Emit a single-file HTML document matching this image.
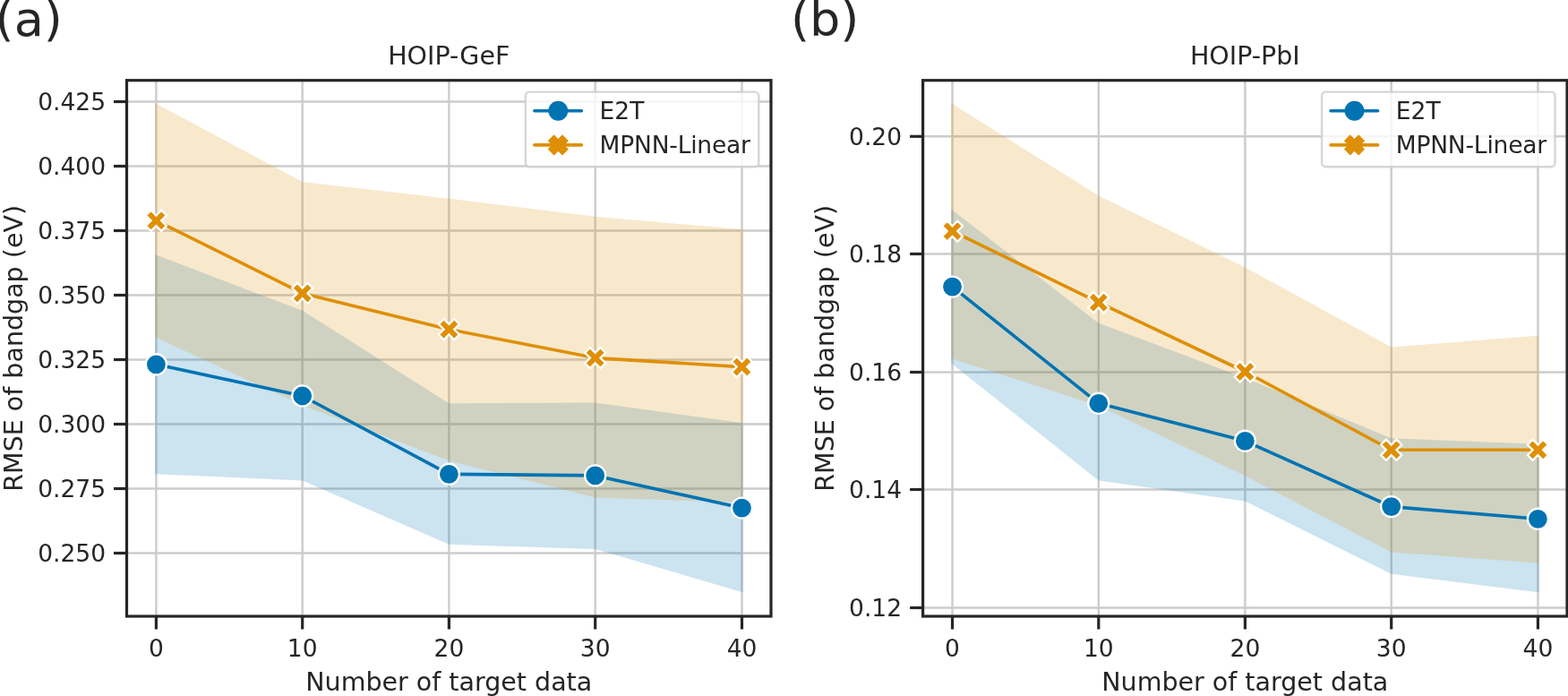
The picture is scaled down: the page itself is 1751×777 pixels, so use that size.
<!DOCTYPE html><html><head><meta charset="utf-8"><style>html,body{margin:0;padding:0;background:#fff;}svg{display:block;}text{font-family:"DejaVu Sans","Liberation Sans",sans-serif;fill:#262626;}</style></head><body>
<svg width="1751" height="777" viewBox="0 0 1751 777">
<rect width="1751" height="777" fill="#fff"/>
<defs><clipPath id="c0"><rect x="141.5" y="89.7" width="719.5" height="598.3"/></clipPath></defs>
<g stroke="#cccccc" stroke-width="2.4" clip-path="url(#c0)"><line x1="174.4" y1="89.7" x2="174.4" y2="688"/><line x1="337.7" y1="89.7" x2="337.7" y2="688"/><line x1="501.4" y1="89.7" x2="501.4" y2="688"/><line x1="664.7" y1="89.7" x2="664.7" y2="688"/><line x1="828.5" y1="89.7" x2="828.5" y2="688"/><line x1="141.5" y1="617.5" x2="861" y2="617.5"/><line x1="141.5" y1="545.5" x2="861" y2="545.5"/><line x1="141.5" y1="473.5" x2="861" y2="473.5"/><line x1="141.5" y1="401.5" x2="861" y2="401.5"/><line x1="141.5" y1="329.5" x2="861" y2="329.5"/><line x1="141.5" y1="257.5" x2="861" y2="257.5"/><line x1="141.5" y1="185.5" x2="861" y2="185.5"/><line x1="141.5" y1="113.5" x2="861" y2="113.5"/></g>
<path d="M173.1 284.6 L174.4 284.6 L337.7 346.8 L501.4 450.2 L664.7 449.5 L828.5 472.1 L829.8 472.1 L829.8 660.9 L828.5 660.9 L664.7 612.9 L501.4 607.7 L337.7 536.5 L174.4 529.2 L173.1 529.2 Z" fill="#0173b2" fill-opacity="0.2"/>
<path d="M173.1 115.7 L174.4 115.7 L337.7 202.9 L501.4 221.7 L664.7 241.8 L828.5 256.1 L829.8 256.1 L829.8 560.8 L828.5 560.8 L664.7 555.6 L501.4 514.3 L337.7 452.5 L174.4 377 L173.1 377 Z" fill="#de8f05" fill-opacity="0.2"/>
<polyline points="174.4,406.8 337.7,442 501.4,529.3 664.7,530.9 828.5,567.1" fill="none" stroke="#0173b2" stroke-width="3.6" stroke-linejoin="round" stroke-linecap="round"/>
<circle cx="174.4" cy="406.8" r="11.55" fill="#0173b2" stroke="#fff" stroke-width="2.3"/>
<circle cx="337.7" cy="442" r="11.55" fill="#0173b2" stroke="#fff" stroke-width="2.3"/>
<circle cx="501.4" cy="529.3" r="11.55" fill="#0173b2" stroke="#fff" stroke-width="2.3"/>
<circle cx="664.7" cy="530.9" r="11.55" fill="#0173b2" stroke="#fff" stroke-width="2.3"/>
<circle cx="828.5" cy="567.1" r="11.55" fill="#0173b2" stroke="#fff" stroke-width="2.3"/>
<polyline points="174.4,246.3 337.7,327.4 501.4,367.7 664.7,399.6 828.5,409.6" fill="none" stroke="#de8f05" stroke-width="3.6" stroke-linejoin="round" stroke-linecap="round"/>
<path d="M168.62 234.75 L174.4 240.53 L180.18 234.75 L185.95 240.53 L180.18 246.3 L185.95 252.08 L180.18 257.85 L174.4 252.08 L168.62 257.85 L162.85 252.08 L168.62 246.3 L162.85 240.53 Z" fill="#de8f05" stroke="#fff" stroke-width="2.3" stroke-linejoin="miter"/>
<path d="M331.93 315.85 L337.7 321.62 L343.47 315.85 L349.25 321.62 L343.47 327.4 L349.25 333.17 L343.47 338.95 L337.7 333.17 L331.93 338.95 L326.15 333.17 L331.93 327.4 L326.15 321.62 Z" fill="#de8f05" stroke="#fff" stroke-width="2.3" stroke-linejoin="miter"/>
<path d="M495.62 356.15 L501.4 361.93 L507.17 356.15 L512.95 361.93 L507.17 367.7 L512.95 373.47 L507.17 379.25 L501.4 373.47 L495.62 379.25 L489.85 373.47 L495.62 367.7 L489.85 361.93 Z" fill="#de8f05" stroke="#fff" stroke-width="2.3" stroke-linejoin="miter"/>
<path d="M658.93 388.05 L664.7 393.83 L670.48 388.05 L676.25 393.83 L670.48 399.6 L676.25 405.38 L670.48 411.15 L664.7 405.38 L658.93 411.15 L653.15 405.38 L658.93 399.6 L653.15 393.83 Z" fill="#de8f05" stroke="#fff" stroke-width="2.3" stroke-linejoin="miter"/>
<path d="M822.73 398.05 L828.5 403.83 L834.27 398.05 L840.05 403.83 L834.27 409.6 L840.05 415.38 L834.27 421.15 L828.5 415.38 L822.73 421.15 L816.95 415.38 L822.73 409.6 L816.95 403.83 Z" fill="#de8f05" stroke="#fff" stroke-width="2.3" stroke-linejoin="miter"/>
<rect x="141.5" y="89.7" width="719.5" height="598.3" fill="none" stroke="#262626" stroke-width="3.2" stroke-linejoin="miter"/>
<g stroke="#262626" stroke-width="3.2"><line x1="174.4" y1="688" x2="174.4" y2="702.5"/><line x1="337.7" y1="688" x2="337.7" y2="702.5"/><line x1="501.4" y1="688" x2="501.4" y2="702.5"/><line x1="664.7" y1="688" x2="664.7" y2="702.5"/><line x1="828.5" y1="688" x2="828.5" y2="702.5"/><line x1="141.5" y1="617.5" x2="127" y2="617.5"/><line x1="141.5" y1="545.5" x2="127" y2="545.5"/><line x1="141.5" y1="473.5" x2="127" y2="473.5"/><line x1="141.5" y1="401.5" x2="127" y2="401.5"/><line x1="141.5" y1="329.5" x2="127" y2="329.5"/><line x1="141.5" y1="257.5" x2="127" y2="257.5"/><line x1="141.5" y1="185.5" x2="127" y2="185.5"/><line x1="141.5" y1="113.5" x2="127" y2="113.5"/></g>
<text x="174.4" y="733" font-size="26.5" text-anchor="middle">0</text>
<text x="337.7" y="733" font-size="26.5" text-anchor="middle">10</text>
<text x="501.4" y="733" font-size="26.5" text-anchor="middle">20</text>
<text x="664.7" y="733" font-size="26.5" text-anchor="middle">30</text>
<text x="828.5" y="733" font-size="26.5" text-anchor="middle">40</text>
<text x="118" y="627.15" font-size="26.5" text-anchor="end">0.250</text>
<text x="118" y="555.15" font-size="26.5" text-anchor="end">0.275</text>
<text x="118" y="483.15" font-size="26.5" text-anchor="end">0.300</text>
<text x="118" y="411.15" font-size="26.5" text-anchor="end">0.325</text>
<text x="118" y="339.15" font-size="26.5" text-anchor="end">0.350</text>
<text x="118" y="267.15" font-size="26.5" text-anchor="end">0.375</text>
<text x="118" y="195.15" font-size="26.5" text-anchor="end">0.400</text>
<text x="118" y="123.15" font-size="26.5" text-anchor="end">0.425</text>
<text x="501.25" y="72" font-size="28.5" text-anchor="middle">HOIP-GeF</text>
<text x="501.25" y="771" font-size="28.5" text-anchor="middle">Number of target data</text>
<text transform="translate(24.9 388.85) rotate(-90)" x="0" y="0" font-size="28.5" text-anchor="middle">RMSE of bandgap (eV)</text>
<rect x="586.9" y="102.6" width="260.4" height="83.7" rx="4.5" ry="4.5" fill="#fff" fill-opacity="0.8" stroke="#cccccc" stroke-opacity="0.8" stroke-width="2.4"/>
<line x1="596.9" y1="123.7" x2="649.4" y2="123.7" stroke="#0173b2" stroke-width="3.6" stroke-linecap="round"/>
<circle cx="623.3" cy="123.7" r="10.95" fill="#0173b2"/>
<line x1="596.9" y1="161.9" x2="649.4" y2="161.9" stroke="#de8f05" stroke-width="3.6" stroke-linecap="round"/>
<path d="M618.6 152.5 L623.3 157.2 L628 152.5 L632.7 157.2 L628 161.9 L632.7 166.6 L628 171.3 L623.3 166.6 L618.6 171.3 L613.9 166.6 L618.6 161.9 L613.9 157.2 Z" fill="#de8f05" stroke="#de8f05" stroke-width="3.1" stroke-linejoin="miter"/>
<text x="669.6" y="133.2" font-size="26.5">E2T</text>
<text x="669.6" y="171.4" font-size="26.5" letter-spacing="-0.2">MPNN-Linear</text>
<defs><clipPath id="c1"><rect x="1030.6" y="89.7" width="719.4" height="598.3"/></clipPath></defs>
<g stroke="#cccccc" stroke-width="2.4" clip-path="url(#c1)"><line x1="1063.5" y1="89.7" x2="1063.5" y2="688"/><line x1="1226.8" y1="89.7" x2="1226.8" y2="688"/><line x1="1390.4" y1="89.7" x2="1390.4" y2="688"/><line x1="1553.7" y1="89.7" x2="1553.7" y2="688"/><line x1="1717.4" y1="89.7" x2="1717.4" y2="688"/><line x1="1030.6" y1="678.5" x2="1750" y2="678.5"/><line x1="1030.6" y1="546.5" x2="1750" y2="546.5"/><line x1="1030.6" y1="415.5" x2="1750" y2="415.5"/><line x1="1030.6" y1="283.5" x2="1750" y2="283.5"/><line x1="1030.6" y1="152.3" x2="1750" y2="152.3"/></g>
<path d="M1062.2 234.5 L1063.5 234.5 L1226.8 360.7 L1390.4 421.9 L1553.7 489.3 L1717.4 495.8 L1718.7 495.8 L1718.7 661.2 L1717.4 661.2 L1553.7 640.7 L1390.4 559.4 L1226.8 536.4 L1063.5 406.5 L1062.2 406.5 Z" fill="#0173b2" fill-opacity="0.2"/>
<path d="M1062.2 116 L1063.5 116 L1226.8 218.4 L1390.4 298.4 L1553.7 387.6 L1717.4 374.8 L1718.7 374.8 L1718.7 628.5 L1717.4 628.5 L1553.7 616.4 L1390.4 531.2 L1226.8 453 L1063.5 400.4 L1062.2 400.4 Z" fill="#de8f05" fill-opacity="0.2"/>
<polyline points="1063.5,320.1 1226.8,450.3 1390.4,492.3 1553.7,565.6 1717.4,579.3" fill="none" stroke="#0173b2" stroke-width="3.6" stroke-linejoin="round" stroke-linecap="round"/>
<circle cx="1063.5" cy="320.1" r="11.55" fill="#0173b2" stroke="#fff" stroke-width="2.3"/>
<circle cx="1226.8" cy="450.3" r="11.55" fill="#0173b2" stroke="#fff" stroke-width="2.3"/>
<circle cx="1390.4" cy="492.3" r="11.55" fill="#0173b2" stroke="#fff" stroke-width="2.3"/>
<circle cx="1553.7" cy="565.6" r="11.55" fill="#0173b2" stroke="#fff" stroke-width="2.3"/>
<circle cx="1717.4" cy="579.3" r="11.55" fill="#0173b2" stroke="#fff" stroke-width="2.3"/>
<polyline points="1063.5,258.1 1226.8,337.7 1390.4,415 1553.7,502.3 1717.4,502.3" fill="none" stroke="#de8f05" stroke-width="3.6" stroke-linejoin="round" stroke-linecap="round"/>
<path d="M1057.72 246.55 L1063.5 252.33 L1069.28 246.55 L1075.05 252.33 L1069.28 258.1 L1075.05 263.88 L1069.28 269.65 L1063.5 263.88 L1057.72 269.65 L1051.95 263.88 L1057.72 258.1 L1051.95 252.33 Z" fill="#de8f05" stroke="#fff" stroke-width="2.3" stroke-linejoin="miter"/>
<path d="M1221.02 326.15 L1226.8 331.93 L1232.58 326.15 L1238.35 331.93 L1232.58 337.7 L1238.35 343.47 L1232.58 349.25 L1226.8 343.47 L1221.02 349.25 L1215.25 343.47 L1221.02 337.7 L1215.25 331.93 Z" fill="#de8f05" stroke="#fff" stroke-width="2.3" stroke-linejoin="miter"/>
<path d="M1384.62 403.45 L1390.4 409.23 L1396.18 403.45 L1401.95 409.23 L1396.18 415 L1401.95 420.77 L1396.18 426.55 L1390.4 420.77 L1384.62 426.55 L1378.85 420.77 L1384.62 415 L1378.85 409.23 Z" fill="#de8f05" stroke="#fff" stroke-width="2.3" stroke-linejoin="miter"/>
<path d="M1547.92 490.75 L1553.7 496.53 L1559.48 490.75 L1565.25 496.53 L1559.48 502.3 L1565.25 508.07 L1559.48 513.85 L1553.7 508.07 L1547.92 513.85 L1542.15 508.07 L1547.92 502.3 L1542.15 496.53 Z" fill="#de8f05" stroke="#fff" stroke-width="2.3" stroke-linejoin="miter"/>
<path d="M1711.62 490.75 L1717.4 496.53 L1723.18 490.75 L1728.95 496.53 L1723.18 502.3 L1728.95 508.07 L1723.18 513.85 L1717.4 508.07 L1711.62 513.85 L1705.85 508.07 L1711.62 502.3 L1705.85 496.53 Z" fill="#de8f05" stroke="#fff" stroke-width="2.3" stroke-linejoin="miter"/>
<rect x="1030.6" y="89.7" width="719.4" height="598.3" fill="none" stroke="#262626" stroke-width="3.2" stroke-linejoin="miter"/>
<g stroke="#262626" stroke-width="3.2"><line x1="1063.5" y1="688" x2="1063.5" y2="702.5"/><line x1="1226.8" y1="688" x2="1226.8" y2="702.5"/><line x1="1390.4" y1="688" x2="1390.4" y2="702.5"/><line x1="1553.7" y1="688" x2="1553.7" y2="702.5"/><line x1="1717.4" y1="688" x2="1717.4" y2="702.5"/><line x1="1030.6" y1="678.5" x2="1016.1" y2="678.5"/><line x1="1030.6" y1="546.5" x2="1016.1" y2="546.5"/><line x1="1030.6" y1="415.5" x2="1016.1" y2="415.5"/><line x1="1030.6" y1="283.5" x2="1016.1" y2="283.5"/><line x1="1030.6" y1="152.3" x2="1016.1" y2="152.3"/></g>
<text x="1063.5" y="733" font-size="26.5" text-anchor="middle">0</text>
<text x="1226.8" y="733" font-size="26.5" text-anchor="middle">10</text>
<text x="1390.4" y="733" font-size="26.5" text-anchor="middle">20</text>
<text x="1553.7" y="733" font-size="26.5" text-anchor="middle">30</text>
<text x="1717.4" y="733" font-size="26.5" text-anchor="middle">40</text>
<text x="1007.1" y="688.15" font-size="26.5" text-anchor="end">0.12</text>
<text x="1007.1" y="556.15" font-size="26.5" text-anchor="end">0.14</text>
<text x="1007.1" y="425.15" font-size="26.5" text-anchor="end">0.16</text>
<text x="1007.1" y="293.15" font-size="26.5" text-anchor="end">0.18</text>
<text x="1007.1" y="161.95" font-size="26.5" text-anchor="end">0.20</text>
<text x="1390.3" y="72" font-size="28.5" text-anchor="middle">HOIP-PbI</text>
<text x="1390.3" y="771" font-size="28.5" text-anchor="middle">Number of target data</text>
<text transform="translate(930.5 388.85) rotate(-90)" x="0" y="0" font-size="28.5" text-anchor="middle">RMSE of bandgap (eV)</text>
<rect x="1476.1" y="102.6" width="260.4" height="83.7" rx="4.5" ry="4.5" fill="#fff" fill-opacity="0.8" stroke="#cccccc" stroke-opacity="0.8" stroke-width="2.4"/>
<line x1="1486.1" y1="123.7" x2="1538.6" y2="123.7" stroke="#0173b2" stroke-width="3.6" stroke-linecap="round"/>
<circle cx="1512.5" cy="123.7" r="10.95" fill="#0173b2"/>
<line x1="1486.1" y1="161.9" x2="1538.6" y2="161.9" stroke="#de8f05" stroke-width="3.6" stroke-linecap="round"/>
<path d="M1507.8 152.5 L1512.5 157.2 L1517.2 152.5 L1521.9 157.2 L1517.2 161.9 L1521.9 166.6 L1517.2 171.3 L1512.5 166.6 L1507.8 171.3 L1503.1 166.6 L1507.8 161.9 L1503.1 157.2 Z" fill="#de8f05" stroke="#de8f05" stroke-width="3.1" stroke-linejoin="miter"/>
<text x="1558.8" y="133.2" font-size="26.5">E2T</text>
<text x="1558.8" y="171.4" font-size="26.5" letter-spacing="-0.2">MPNN-Linear</text>
<text x="-5.4" y="40.4" font-size="54.0">(a)</text>
<text x="882.9" y="40.4" font-size="54.0">(b)</text>
</svg></body></html>
